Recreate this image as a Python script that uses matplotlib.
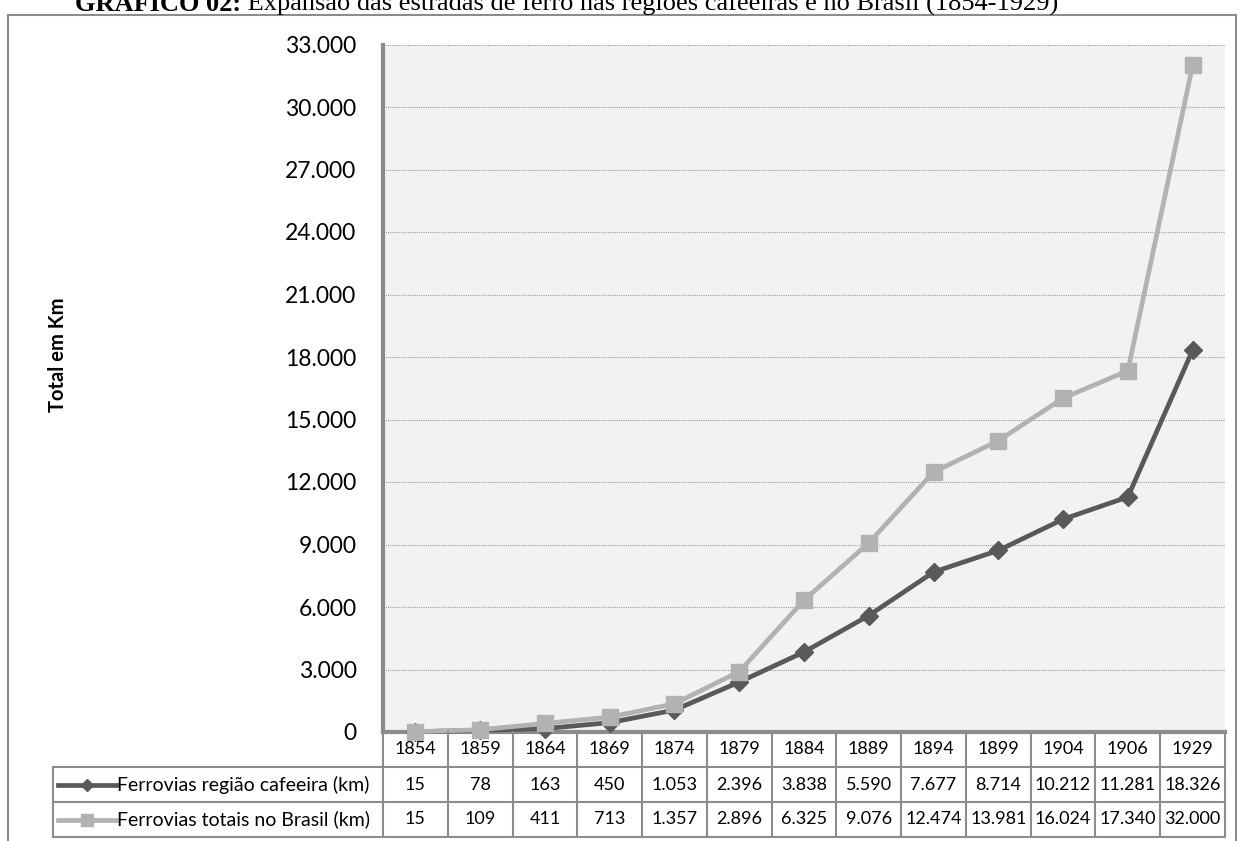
import matplotlib.pyplot as plt
import matplotlib.transforms as mtransforms
from matplotlib.lines import Line2D
from matplotlib.patches import Rectangle

# --------------------------------------------------------------
# Data
# --------------------------------------------------------------
anos = ["1854", "1859", "1864", "1869", "1874", "1879", "1884",
        "1889", "1894", "1899", "1904", "1906", "1929"]
ferrovias_cafe = [15, 78, 163, 450, 1053, 2396, 3838, 5590, 7677,
                  8714, 10212, 11281, 18326]
ferrovias_brasil = [15, 109, 411, 713, 1357, 2896, 6325, 9076, 12474,
                    13981, 16024, 17340, 32000]
nome_cafe = "Ferrovias região cafeeira (km)"
nome_brasil = "Ferrovias totais no Brasil (km)"
titulo_bold = "GRÁFICO 02:"
titulo_resto = " Expansão das estradas de ferro nas regiões cafeeiras e no Brasil (1854-1929)"

cor_cafe = "#595959"
cor_brasil = "#b2b2b2"
cor_borda = "#8c8c8c"


def fmt(v):
    return f"{v:,}".replace(",", ".")


W, H = 1242, 841
fig = plt.figure(figsize=(W / 100, H / 100), dpi=100)
plt.rcParams["font.family"] = ["Lato", "DejaVu Sans"]


def fx(px):
    return px / W


def fy(py):
    return 1 - py / H


# outer frame of the chart
fig.patches.append(Rectangle((fx(8), fy(900)), fx(1236) - fx(8), fy(15) - fy(900),
                             transform=fig.transFigure, fill=False,
                             edgecolor=cor_borda, lw=1.5))

# title (bold label + regular text), partly cut at the top edge
t1 = fig.text(fx(75), fy(11), titulo_bold, family="Liberation Serif",
              weight="bold", fontsize=19, va="baseline", ha="left")
renderer = fig.canvas.get_renderer()
bb = t1.get_window_extent(renderer)
fig.text(bb.x1 / W, fy(11), titulo_resto, family="Liberation Serif",
         fontsize=19, va="baseline", ha="left")

# --------------------------------------------------------------
# Plot area
# --------------------------------------------------------------
left, right, top, bottom = 383, 1225, 44.5, 732
ax = fig.add_axes([fx(left), fy(bottom), fx(right) - fx(left), fy(top) - fy(bottom)])
ax.set_facecolor("#f2f2f2")
x = list(range(len(anos)))
ax.set_xlim(-0.5, len(anos) - 0.5)
ax.set_ylim(0, 33000)
ax.set_yticks(range(0, 33001, 3000))
ax.set_yticklabels([fmt(v) for v in range(0, 33001, 3000)], fontsize=16.5)
ax.tick_params(axis="y", length=0, pad=19)
ax.set_xticks([])
ax.grid(axis="y", color="#9c9c9c", lw=0.8, linestyle=(0, (1, 1)))
ax.set_axisbelow(True)
for s in ["top", "right"]:
    ax.spines[s].set_visible(False)
for s in ["left", "bottom"]:
    ax.spines[s].set_color(cor_borda)
    ax.spines[s].set_linewidth(3)

ax.plot(x, ferrovias_cafe, color=cor_cafe, lw=3.4, marker="D", ms=9,
        zorder=3, clip_on=False)
ax.plot(x, ferrovias_brasil, color=cor_brasil, lw=3.4, marker="s", ms=12,
        zorder=4, clip_on=False)

fig.text(fx(58), fy(355), "Total em Km", rotation=90, fontsize=14.5,
         weight="bold", va="center", ha="center")

# --------------------------------------------------------------
# Data table below the plot
# --------------------------------------------------------------
tr = mtransforms.blended_transform_factory(ax.transData, fig.transFigure)
rows_y = [732, 767, 802, 837]
n = len(anos)


def hline(x0, x1, y, trans):
    fig.lines.append(Line2D([x0, x1], [fy(y), fy(y)], transform=trans,
                            color=cor_borda, lw=1.5))


def vline(xv, y0, y1, trans):
    fig.lines.append(Line2D([xv, xv], [fy(y0), fy(y1)], transform=trans,
                            color=cor_borda, lw=1.5))


for y in rows_y[1:]:
    hline(fx(53), fx(right), y, fig.transFigure)
for i in range(n + 1):
    vline(i - 0.5, rows_y[0], rows_y[-1], tr)
vline(fx(53), rows_y[1], rows_y[-1], fig.transFigure)

for i, ano in enumerate(anos):
    fig.text(i, fy((rows_y[0] + rows_y[1]) / 2), ano, transform=tr,
             ha="center", va="center", fontsize=13)
for vals, r in [(ferrovias_cafe, 1), (ferrovias_brasil, 2)]:
    yc = fy((rows_y[r] + rows_y[r + 1]) / 2)
    for i, v in enumerate(vals):
        fig.text(i, yc, fmt(v), transform=tr, ha="center", va="center",
                 fontsize=13)

# legend keys inside the table
for nome, cor, mk, ms, r in [(nome_cafe, cor_cafe, "D", 6, 1),
                             (nome_brasil, cor_brasil, "s", 9, 2)]:
    yc = fy((rows_y[r] + rows_y[r + 1]) / 2)
    fig.lines.append(Line2D([fx(58), fx(116)], [yc, yc], transform=fig.transFigure,
                            color=cor, lw=3.4))
    fig.lines.append(Line2D([fx(87)], [yc], transform=fig.transFigure,
                            color=cor, marker=mk, ms=ms))
    fig.text(fx(117), yc, nome, ha="left", va="center", fontsize=14)

fig.savefig("out.png", dpi=100)
